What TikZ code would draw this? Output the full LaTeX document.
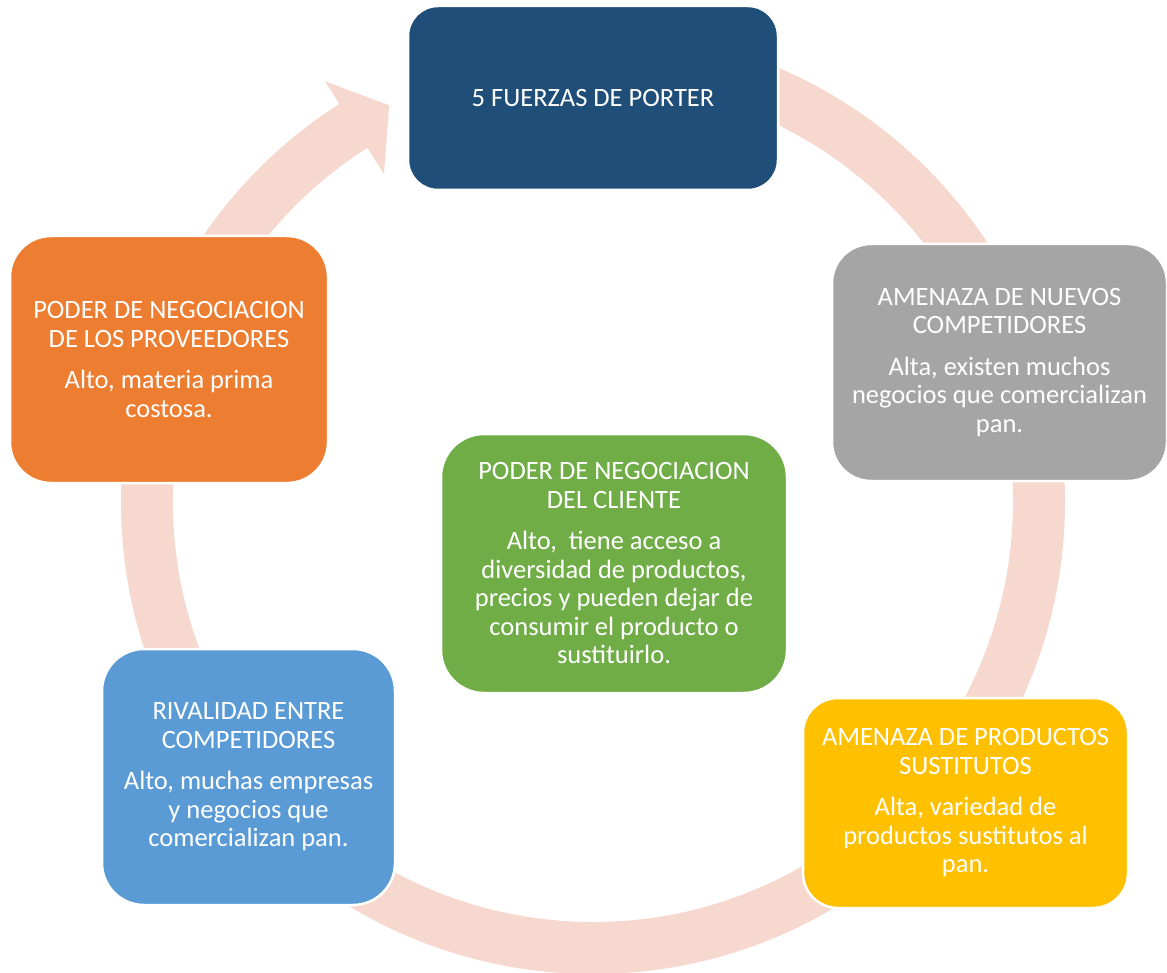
\documentclass[tikz,border=0pt]{standalone}
\usepackage{fontspec}
\setmainfont{Carlito}
\definecolor{ringc}{RGB}{247,216,206}
\definecolor{cblue}{RGB}{31,78,121}
\definecolor{cgray}{RGB}{165,165,165}
\definecolor{cyellow}{RGB}{255,192,0}
\definecolor{clblue}{RGB}{91,155,213}
\definecolor{corange}{RGB}{237,125,49}
\definecolor{cgreen}{RGB}{112,173,71}
\tikzset{
  forcebox/.style={rectangle, draw=white, line width=2.5pt, text=white, align=center,
    inner sep=0pt, font=\fontsize{26.5}{28.5}\selectfont},
}
\begin{document}
\begin{tikzpicture}[x=1pt,y=1pt]
\useasboundingbox (0,0) rectangle (1167,-973);
\coordinate (c) at (593,-502);
% ring with arrow head
\fill[ringc] ([shift={(90:472)}]c) arc[start angle=90,end angle=-237.5,radius=472pt]
  -- ([shift={(-237.5:499)}]c) -- ([shift={(-242.8:446)}]c)
  -- ([shift={(-237.5:389)}]c) -- ([shift={(-237.5:420)}]c)
  arc[start angle=-237.5,end angle=90,radius=420pt] -- cycle;
% boxes
\node[forcebox, fill=cblue, minimum width=370pt, minimum height=184pt, rounded corners=30pt]
  (top) at (593,-98) {5 FUERZAS DE PORTER};
\node[forcebox, fill=cgray, minimum width=335pt, minimum height=237pt, rounded corners=39pt]
  (nuevos) at (999.5,-362.5) {AMENAZA DE NUEVOS\\COMPETIDORES\\[13pt]Alta, existen muchos\\negocios que comercializan\\pan.};
\node[forcebox, fill=cyellow, minimum width=325pt, minimum height=210pt, rounded corners=35pt]
  (sust) at (965.5,-803) {AMENAZA DE PRODUCTOS\\SUSTITUTOS\\[13pt]Alta, variedad de\\productos sustitutos al\\pan.};
\node[forcebox, fill=clblue, minimum width=293pt, minimum height=256pt, rounded corners=42pt]
  (rival) at (248.5,-777) {RIVALIDAD ENTRE\\COMPETIDORES\\[13pt]Alto, muchas empresas\\y negocios que\\comercializan pan.};
\node[forcebox, fill=corange, minimum width=318pt, minimum height=247pt, rounded corners=41pt]
  (prov) at (169,-359.5) {PODER DE NEGOCIACION\\DE LOS PROVEEDORES\\[13pt]Alto, materia prima\\costosa.};
\node[forcebox, fill=cgreen, minimum width=346pt, minimum height=259pt, rounded corners=43pt]
  (cliente) at (614,-563.5) {PODER DE NEGOCIACION\\DEL CLIENTE\\[13pt]Alto,\ \ tiene acceso a\\diversidad de productos,\\precios y pueden dejar de\\consumir el producto o\\sustituirlo.};
\end{tikzpicture}
\end{document}
